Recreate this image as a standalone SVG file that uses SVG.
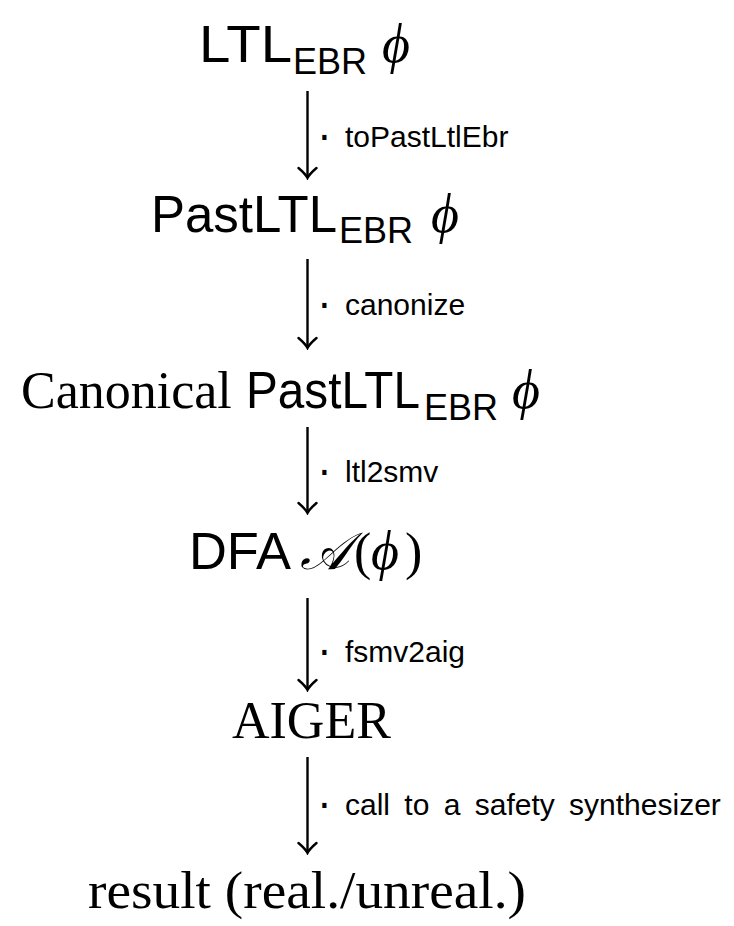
<svg xmlns="http://www.w3.org/2000/svg" width="734" height="926" viewBox="0 0 734 926">
<style>
.sans{font-family:"Liberation Sans",Arial,sans-serif;font-size:52px;fill:#000}
.sub{font-family:"Liberation Sans",Arial,sans-serif;font-size:36px;fill:#000}
.serif{font-family:"Liberation Serif","Times New Roman",serif;font-size:52px;fill:#000}
.phi{font-family:"Liberation Serif","DejaVu Serif",serif;font-style:italic;font-size:54px;fill:#000}
.label{font-family:"Liberation Sans",Arial,sans-serif;font-size:30px;fill:#000}
.dot{font-family:"DejaVu Sans",sans-serif;font-size:40px;fill:#000}
.arrow{stroke:#000;stroke-width:2.4;fill:none;marker-end:url(#ah)}
</style>
<defs>
<marker id="ah" markerUnits="userSpaceOnUse" viewBox="-12 -11 14 22" markerWidth="14" markerHeight="22" refX="0" refY="0" orient="auto">
<path d="M-10,-9 Q-4,-2 0,0 Q-4,2 -10,9" stroke="#000" stroke-width="2.4" fill="none" stroke-linecap="round"/>
</marker>
</defs>
<g id="n1">
<text class="sans" x="199" y="62" textLength="93" lengthAdjust="spacingAndGlyphs">LTL</text>
<text class="sub" x="293" y="74">EBR</text>
<text class="phi" x="382" y="62">ϕ</text>
</g>
<g id="n2">
<text class="sans" x="151" y="232" textLength="186" lengthAdjust="spacingAndGlyphs">PastLTL</text>
<text class="sub" x="339" y="243">EBR</text>
<text class="phi" x="431" y="232">ϕ</text>
</g>
<g id="n3">
<text class="serif" x="21" y="408">Canonical</text>
<text class="sans" x="246" y="408" textLength="174" lengthAdjust="spacingAndGlyphs">PastLTL</text>
<text class="sub" x="424" y="420">EBR</text>
<text class="phi" x="512" y="408">ϕ</text>
</g>
<g id="n4">
<text class="sans" x="189" y="569" textLength="102" lengthAdjust="spacingAndGlyphs">DFA</text>
<text class="serif" x="300" y="569" font-style="italic">𝒜</text>
<text class="serif" x="354" y="569" font-size="58">(</text>
<text class="phi" x="371" y="569">ϕ</text>
<text class="serif" x="405" y="569" font-size="58">)</text>
</g>
<g id="n5">
<text class="serif" x="232" y="738" font-size="50">AIGER</text>
</g>
<g id="n6">
<text class="serif" x="88" y="908" font-size="55" textLength="438" lengthAdjust="spacingAndGlyphs">result (real./unreal.)</text>
</g>
<g id="connectors">
<line class="arrow" x1="307.5" y1="91" x2="307.5" y2="178"/>
<line class="arrow" x1="307.5" y1="259" x2="307.5" y2="348"/>
<line class="arrow" x1="307.5" y1="427" x2="307.5" y2="513"/>
<line class="arrow" x1="307.5" y1="598" x2="307.5" y2="690"/>
<line class="arrow" x1="307.5" y1="757" x2="307.5" y2="853"/>
<text class="label" x="318" y="147"><tspan class="dot" dy="5">·</tspan><tspan x="345" dy="-5">toPastLtlEbr</tspan></text>
<text class="label" x="318" y="315"><tspan class="dot" dy="5">·</tspan><tspan x="345" dy="-5">canonize</tspan></text>
<text class="label" x="318" y="482"><tspan class="dot" dy="5">·</tspan><tspan x="345" dy="-5">ltl2smv</tspan></text>
<text class="label" x="318" y="662"><tspan class="dot" dy="5">·</tspan><tspan x="345" dy="-5">fsmv2aig</tspan></text>
<text class="label" x="318" y="815" word-spacing="6"><tspan class="dot" dy="5">·</tspan><tspan x="345" dy="-5">call to a safety synthesizer</tspan></text>
</g>
</svg>
